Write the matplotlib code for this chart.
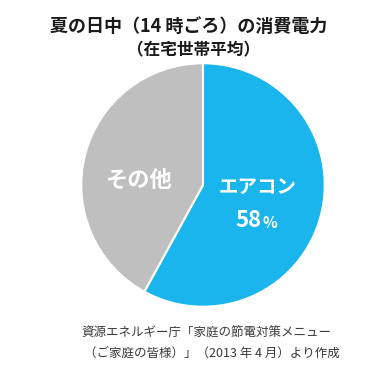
import matplotlib.pyplot as plt

plt.rcParams['font.family'] = ['Noto Sans CJK JP', 'DejaVu Sans']

# data
labels = ['エアコン', 'その他']
shares = [58, 42]
colors = ['#19B5EC', '#BFBFBF']

fig = plt.figure(figsize=(3.9, 3.83), dpi=100)

fig.text(0.484, 0.932, '夏の日中（14 時ごろ）の消費電力', ha='center', va='center',
         fontsize=13, fontweight='bold', color='#1a1a1a')
fig.text(0.497, 0.868, '（在宅世帯平均）', ha='center', va='center',
         fontsize=12, fontweight='bold', color='#1a1a1a')

ax = fig.add_axes([0.205, 0.196, 0.631, 0.642])
ax.pie(shares, colors=colors, startangle=90, counterclock=False,
       wedgeprops=dict(edgecolor='white', linewidth=1.5))
ax.set_xlim(-1.01, 1.01)
ax.set_ylim(-1.01, 1.01)
ax.set_aspect('equal')

ax.text(0.45, -0.02, labels[0], ha='center', va='center', color='white',
        fontsize=14, fontweight='bold')
ax.text(0.37, -0.29, str(shares[0]), ha='center', va='center', color='white',
        fontsize=16, fontweight='bold')
ax.text(0.55, -0.31, '%', ha='center', va='center', color='white',
        fontsize=11, fontweight='bold')
ax.text(-0.53, 0.04, labels[1], ha='center', va='center', color='white',
        fontsize=16, fontweight='bold')

fig.text(0.53, 0.131, '資源エネルギー庁「家庭の節電対策メニュー', ha='center', va='center',
         fontsize=9, color='#3a3a3a')
fig.text(0.544, 0.078, '（ご家庭の皆様）」（2013 年 4 月）より作成', ha='center', va='center',
         fontsize=9, color='#3a3a3a')

fig.savefig('out.png', dpi=100)
